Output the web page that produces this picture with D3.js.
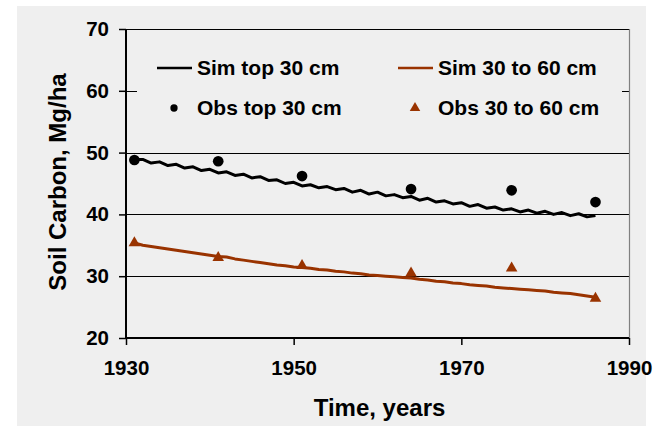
<!DOCTYPE html>
<html>
<head>
<meta charset="utf-8">
<script src="https://cdn.jsdelivr.net/npm/d3@7"></script>
<style>
  html, body { margin: 0; padding: 0; background: #ffffff; }
  svg { display: block; }
  text { font-family: "Liberation Sans", Arial, sans-serif; font-weight: bold; fill: #000; }
</style>
</head>
<body>
<svg id="chart" width="656" height="433"></svg>
<script>
// Simulated soil carbon, annual values (Mg/ha)
const simYears = d3.range(1931, 1987);
const simTop = [48.9, 48.9, 48.3, 48.5, 47.9, 48.1, 47.5, 47.7, 47.1, 47.3,
                46.7, 46.9, 46.3, 46.5, 45.9, 46.1, 45.5, 45.6, 45.0, 45.2,
                44.6, 44.8, 44.3, 44.5, 44.0, 44.2, 43.6, 43.9, 43.3, 43.6,
                43.0, 43.2, 42.7, 42.9, 42.3, 42.6, 42.0, 42.2, 41.7, 41.9,
                41.3, 41.6, 41.0, 41.2, 40.7, 40.9, 40.4, 40.7, 40.2, 40.5,
                40.0, 40.3, 39.8, 40.1, 39.6, 39.8];
const simSub = [35.4, 35.0, 34.8, 34.6, 34.4, 34.2, 34.0, 33.8, 33.6, 33.4,
                33.2, 33.1, 32.8, 32.6, 32.4, 32.2, 32.0, 31.8, 31.7, 31.5,
                31.4, 31.3, 31.1, 31.0, 30.8, 30.7, 30.5, 30.4, 30.2, 30.1,
                30.0, 29.9, 29.8, 29.7, 29.5, 29.4, 29.2, 29.1, 28.9, 28.8,
                28.6, 28.5, 28.4, 28.2, 28.1, 28.0, 27.9, 27.8, 27.7, 27.6,
                27.4, 27.3, 27.2, 27.0, 26.8, 26.6];

// Observed soil carbon
const obsYears = [1931, 1941, 1951, 1964, 1976, 1986];
const obsTop = [48.8, 48.6, 46.2, 44.1, 43.9, 42.0];
const obsSub = [35.4, 33.0, 31.7, 30.5, 31.3, 26.4];

const xTicks = [1930, 1950, 1970, 1990];
const yTicks = [20, 30, 40, 50, 60, 70];
const gridValues = [30, 40, 50, 60, 70];

const seriesNames = ["Sim top 30 cm", "Sim 30 to 60 cm", "Obs top 30 cm", "Obs 30 to 60 cm"];
const brown = "#993300";

const svg = d3.select("#chart");

// Chart area background
svg.append("rect").attr("x", 17).attr("y", 6).attr("width", 629).attr("height", 420)
  .attr("fill", "#efefef");

const plotLeft = 126, plotRight = 629, plotTop = 29, plotBottom = 338;
const x = d3.scaleLinear().domain([1930, 1990]).range([plotLeft, plotRight]);
const y = d3.scaleLinear().domain([20, 70]).range([plotBottom, plotTop]);

// Gridlines
svg.append("g").selectAll("line").data(gridValues).join("line")
  .attr("x1", plotLeft).attr("x2", plotRight)
  .attr("y1", d => Math.round(y(d)) + 0.5).attr("y2", d => Math.round(y(d)) + 0.5)
  .attr("stroke", "#000").attr("stroke-width", 1);

// Right border of plot area
svg.append("line").attr("x1", plotRight + 0.5).attr("x2", plotRight + 0.5)
  .attr("y1", plotTop).attr("y2", plotBottom).attr("stroke", "#808080").attr("stroke-width", 1.2);

// Axes
const yAxis = svg.append("g").attr("transform", `translate(${plotLeft},0)`)
  .call(d3.axisLeft(y).tickValues(yTicks).tickSize(7).tickPadding(10).tickFormat(d3.format("d")));
const xAxis = svg.append("g").attr("transform", `translate(0,${plotBottom})`)
  .call(d3.axisBottom(x).tickValues(xTicks).tickSize(7).tickPadding(15).tickFormat(d3.format("d")));
[yAxis, xAxis].forEach(g => {
  g.select(".domain").attr("stroke", "#000").attr("stroke-width", 2);
  g.selectAll(".tick line").attr("stroke", "#000").attr("stroke-width", 1.5);
  g.selectAll("text").style("font-size", "20.5px").style("font-family", "Liberation Sans, Arial, sans-serif")
    .style("font-weight", "bold").attr("fill", "#000");
});
xAxis.select(".domain").attr("d", `M${plotLeft},0H${plotRight}`);
yAxis.select(".domain").attr("d", `M0,${plotBottom}V${plotTop}`);

// Axis titles
svg.append("text").attr("x", (plotLeft + plotRight) / 2 + 2).attr("y", 416).attr("text-anchor", "middle")
  .style("font-size", "24px").text("Time, years");
svg.append("text").attr("transform", `translate(66,182) rotate(-90)`)
  .attr("text-anchor", "middle").style("font-size", "24px").text("Soil Carbon, Mg/ha");

// Simulated lines
const line = d3.line().x(d => x(d[0])).y(d => y(d[1]));
svg.append("path").datum(simYears.map((yr, i) => [yr, simSub[i]]))
  .attr("d", line).attr("fill", "none").attr("stroke", brown).attr("stroke-width", 3)
  .attr("stroke-linejoin", "round");
svg.append("path").datum(simYears.map((yr, i) => [yr, simTop[i]]))
  .attr("d", line).attr("fill", "none").attr("stroke", "#000").attr("stroke-width", 3)
  .attr("stroke-linejoin", "round");

// Observed markers
const circleSym = d3.symbol().type(d3.symbolCircle).size(90);
const triSym = d3.symbol().type(d3.symbolTriangle).size(58);
svg.append("g").selectAll("path").data(obsYears.map((yr, i) => [yr, obsTop[i]])).join("path")
  .attr("transform", d => `translate(${x(d[0])},${y(d[1])})`).attr("d", circleSym).attr("fill", "#000");
svg.append("g").selectAll("path").data(obsYears.map((yr, i) => [yr, obsSub[i]])).join("path")
  .attr("transform", d => `translate(${x(d[0])},${y(d[1])})`).attr("d", triSym).attr("fill", brown);

// Legend
const legend = svg.append("g");
legend.append("rect").attr("x", 137).attr("y", 50).attr("width", 485).attr("height", 74).attr("fill", "#efefef");
const items = [
  { name: seriesNames[0], kind: "line", color: "#000", lx: 157, ly: 68 },
  { name: seriesNames[1], kind: "line", color: brown, lx: 398, ly: 68 },
  { name: seriesNames[2], kind: "circle", color: "#000", lx: 157, ly: 108 },
  { name: seriesNames[3], kind: "tri", color: brown, lx: 398, ly: 108 }
];
items.forEach(it => {
  if (it.kind === "line") {
    legend.append("line").attr("x1", it.lx).attr("x2", it.lx + 35).attr("y1", it.ly).attr("y2", it.ly)
      .attr("stroke", it.color).attr("stroke-width", 2.5);
  } else {
    legend.append("path").attr("transform", `translate(${it.lx + 17},${it.ly})`)
      .attr("d", it.kind === "circle" ? d3.symbol().type(d3.symbolCircle).size(42)() : d3.symbol().type(d3.symbolTriangle).size(48)())
      .attr("fill", it.color);
  }
  legend.append("text").attr("x", it.lx + 40).attr("y", it.ly + 7).style("font-size", "21px").text(it.name);
});
</script>
</body>
</html>
